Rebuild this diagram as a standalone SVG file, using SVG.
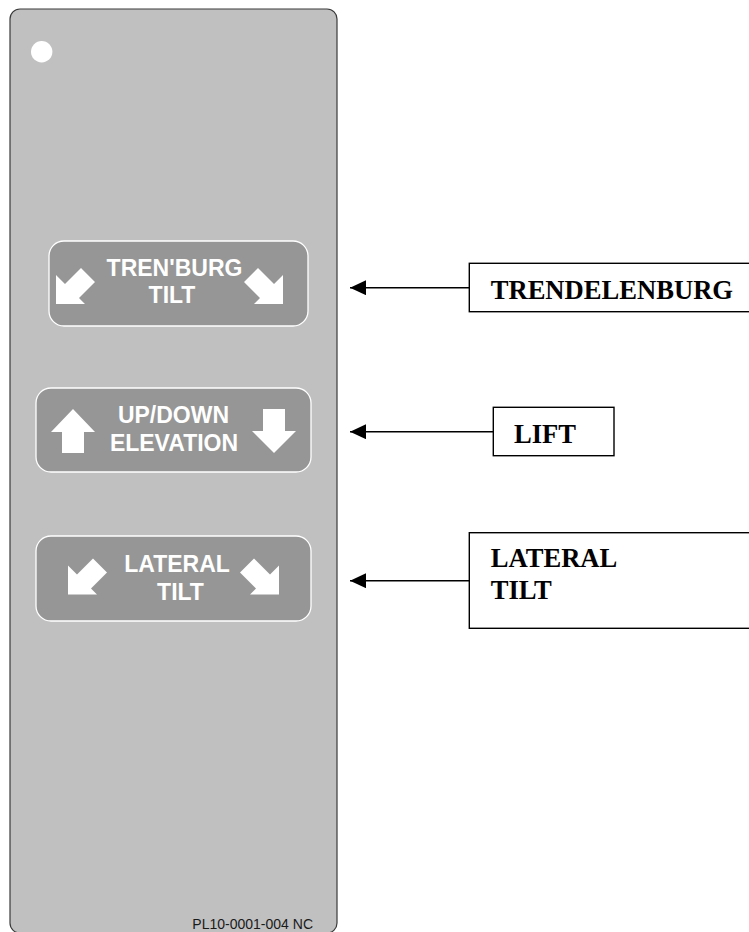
<svg xmlns="http://www.w3.org/2000/svg" xmlns:xlink="http://www.w3.org/1999/xlink" width="749" height="932" viewBox="0 0 749 932">
<style>
.panel{fill:#c0c0c0;stroke:#3a3a3a;stroke-width:1.2}
.btn{fill:#969696;stroke:#ffffff;stroke-width:1.3}
.btxt{font-family:"Liberation Sans",Arial,sans-serif;font-weight:bold;font-size:23px;fill:#ffffff;text-anchor:middle}
.glyph{fill:#ffffff}
.lbox{fill:#ffffff;stroke:#000000;stroke-width:1.4}
.ltxt{font-family:"Liberation Serif","Times New Roman",serif;font-weight:bold;font-size:26.6px;fill:#000000}
.conn{stroke:#000000;stroke-width:1.6;fill:none;marker-end:url(#ah)}
.foot{font-family:"Liberation Sans",Arial,sans-serif;font-size:14px;fill:#1a1a1a;text-anchor:end}
</style>
<defs>
<marker id="ah" markerUnits="userSpaceOnUse" markerWidth="17" markerHeight="16" refX="16" refY="7.5" orient="auto">
<path d="M0,0 L16,7.5 L0,15 z" fill="#000000"/>
</marker>
<path id="diag" d="M0,0 L0,-29 L9,-20 L25,-36 L39,-22 L23,-6 L29,0 z"/>
</defs>
<rect width="749" height="932" fill="#ffffff"/>
<g id="panel">
<rect class="panel" x="10" y="9" width="327" height="924" rx="10" ry="10"/>
<circle cx="41.7" cy="51.7" r="10.7" fill="#ffffff"/>
</g>
<g id="btn-trenburg">
<rect class="btn" x="49" y="241" width="259" height="85" rx="15" ry="15"/>
<use xlink:href="#diag" class="glyph" transform="translate(56,304)"/>
<use xlink:href="#diag" class="glyph" transform="translate(283,304) scale(-1,1)"/>
<text class="btxt" x="174.5" y="276">TREN'BURG</text>
<text class="btxt" x="172" y="303">TILT</text>
</g>
<g id="btn-updown">
<rect class="btn" x="36" y="388" width="275" height="84" rx="15" ry="15"/>
<polygon class="glyph" points="73,409 95,432 84,432 84,453 62,453 62,432 51,432"/>
<polygon class="glyph" points="274,453 252,431 263,431 263,409 285,409 285,431 296,431"/>
<text class="btxt" x="173.5" y="423">UP/DOWN</text>
<text class="btxt" x="174" y="451">ELEVATION</text>
</g>
<g id="btn-lateral">
<rect class="btn" x="36" y="536" width="275" height="85" rx="15" ry="15"/>
<use xlink:href="#diag" class="glyph" transform="translate(68,594.5)"/>
<use xlink:href="#diag" class="glyph" transform="translate(279,594.5) scale(-1,1)"/>
<text class="btxt" x="177" y="572">LATERAL</text>
<text class="btxt" x="180.5" y="600">TILT</text>
</g>
<g id="label-trendelenburg">
<rect class="lbox" x="469.3" y="263.3" width="300" height="48.4"/>
<text class="ltxt" x="490.7" y="299.3">TRENDELENBURG</text>
</g>
<g id="label-lift">
<rect class="lbox" x="493.3" y="407.3" width="120.7" height="48.4"/>
<text class="ltxt" x="514" y="443.3">LIFT</text>
</g>
<g id="label-lateral">
<rect class="lbox" x="469.3" y="532.7" width="300" height="95.6"/>
<text class="ltxt" x="490.7" y="567.3">LATERAL</text>
<text class="ltxt" x="490.7" y="599.3">TILT</text>
</g>
<g id="connectors">
<line class="conn" x1="469.3" y1="287.7" x2="350" y2="287.7"/>
<line class="conn" x1="493.3" y1="431.7" x2="350" y2="431.7"/>
<line class="conn" x1="469.3" y1="580.7" x2="350" y2="580.7"/>
</g>
<g id="footer">
<text class="foot" x="313" y="929">PL10-0001-004 NC</text>
</g>
</svg>
